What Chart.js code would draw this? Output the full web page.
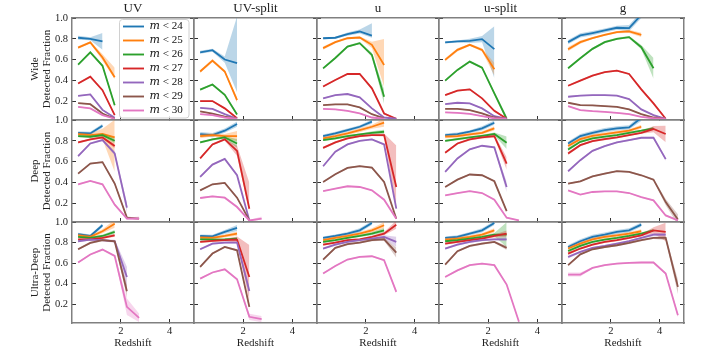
<!DOCTYPE html>
<html>
<head>
<meta charset="utf-8">
<script src="https://cdn.jsdelivr.net/npm/chart.js@4.4.1/dist/chart.umd.min.js"></script>
<style>
  html, body { margin: 0; padding: 0; background: #fff; }
  #fig { position: relative; width: 720px; height: 360px; }
  #fig canvas { position: absolute; left: 0; top: 0; }
</style>
</head>
<body>
<div id="fig"></div>
<script>
// Redshift bin centres and axis ticks
const Z = [0.25, 0.75, 1.25, 1.75, 2.25, 2.75, 3.25, 3.75, 4.25, 4.75];
const X_TICKS = [2, 4];
const Y_TICKS = [0.2, 0.4, 0.6, 0.8, 1.0];
const COLUMNS = ['UV', 'UV-split', 'u', 'u-split', 'g'];
const ROWS = ['Wide', 'Deep', 'Ultra-Deep'];
const MAGS = ['24', '25', '26', '27', '28', '29', '30'];

// Detected fraction per magnitude cut (m<24 ... m<30), one row per series.
// *_ERR: half-width of the shaded band, either symmetric or [down, up].

// ---- Wide ----
const UV_WIDE = [
  [0.81, 0.80, 0.775],
  [0.715, 0.765, 0.62, 0.43],
  [0.55, 0.67, 0.54, 0.16],
  [0.37, 0.435, 0.305, 0.065],
  [0.25, 0.265, 0.115, 0.04],
  [0.18, 0.17, 0.08, 0.03],
  [0.145, 0.13, 0.065, 0.03]];
const UV_WIDE_ERR = [
  [0.02, 0.015, 0.08],
  [0.012, 0.01, 0.03, [0.02, 0.09]],
  [0.01, 0.01, 0.012, 0.02],
  [0.008, 0.008, 0.01, 0.01],
  [0.006, 0.006, 0.008, 0.006],
  [0.006, 0.006, 0.006, 0.005],
  [0.006, 0.006, 0.006, 0.005]];

const UVSPLIT_WIDE = [
  [0.67, 0.69, 0.60, 0.565],
  [0.485, 0.59, 0.485, 0.21],
  [0.31, 0.36, 0.26, 0.07],
  [0.20, 0.20, 0.13, 0.035],
  [0.135, 0.125, 0.075, 0.03],
  [0.10, 0.08, 0.05, 0.03],
  [0.075, 0.065, 0.042, 0.03]];
const UVSPLIT_WIDE_ERR = [
  [0.015, 0.015, 0.03, [0.28, 0.45]],
  [0.015, 0.015, 0.015, 0.025],
  [0.01, 0.01, 0.01, 0.01],
  [0.008, 0.008, 0.008, 0.005],
  [0.006, 0.006, 0.006, 0.005],
  [0.006, 0.006, 0.006, 0.005],
  [0.006, 0.006, 0.006, 0.005]];

const U_WIDE = [
  [0.805, 0.81, 0.845, 0.87, 0.83],
  [0.71, 0.768, 0.805, 0.812, 0.742, 0.548],
  [0.515, 0.615, 0.725, 0.758, 0.645, 0.242],
  [0.34, 0.403, 0.461, 0.461, 0.323, 0.081, 0.03],
  [0.226, 0.258, 0.268, 0.236, 0.13, 0.042, 0.03],
  [0.161, 0.168, 0.168, 0.139, 0.074, 0.035],
  [0.126, 0.12, 0.106, 0.081, 0.042, 0.03]];
const U_WIDE_ERR = [
  [0.01, 0.01, 0.015, 0.02, [0.02, 0.12]],
  [0.015, 0.01, 0.01, 0.01, 0.03, [0.21, 0.25]],
  [0.01, 0.01, 0.01, 0.01, 0.02, 0.07],
  [0.008, 0.008, 0.008, 0.008, 0.01, 0.01, 0.005],
  [0.006, 0.006, 0.006, 0.006, 0.008, 0.006, 0.005],
  [0.006, 0.006, 0.006, 0.006, 0.006, 0.005],
  [0.006, 0.006, 0.006, 0.006, 0.006, 0.005]];

const USPLIT_WIDE = [
  [0.765, 0.774, 0.78, 0.797, 0.70],
  [0.597, 0.693, 0.742, 0.693, 0.507],
  [0.397, 0.50, 0.58, 0.522, 0.274, 0.03],
  [0.258, 0.30, 0.313, 0.226, 0.106, 0.03],
  [0.171, 0.184, 0.178, 0.13, 0.055, 0.03],
  [0.126, 0.126, 0.113, 0.081, 0.042, 0.03],
  [0.091, 0.087, 0.077, 0.055, 0.035, 0.03]];
const USPLIT_WIDE_ERR = [
  [0.01, 0.01, 0.02, 0.03, [0.28, 0.22]],
  [0.015, 0.015, 0.01, 0.015, 0.06],
  [0.01, 0.01, 0.01, 0.01, 0.015, 0.025],
  [0.008, 0.008, 0.008, 0.008, 0.01, 0.005],
  [0.006, 0.006, 0.006, 0.006, 0.006, 0.005],
  [0.006, 0.006, 0.006, 0.006, 0.006, 0.005],
  [0.006, 0.006, 0.006, 0.006, 0.006, 0.005]];

const G_WIDE = [
  [0.768, 0.832, 0.855, 0.88, 0.906, 0.903, 1.03],
  [0.70, 0.768, 0.807, 0.838, 0.864, 0.871, 0.838],
  [0.516, 0.613, 0.703, 0.768, 0.80, 0.816, 0.719, 0.516],
  [0.348, 0.397, 0.445, 0.478, 0.494, 0.461, 0.313, 0.178, 0.03],
  [0.242, 0.252, 0.258, 0.258, 0.252, 0.219, 0.12, 0.065, 0.03],
  [0.184, 0.161, 0.158, 0.152, 0.145, 0.12, 0.074, 0.042, 0.03],
  [0.152, 0.113, 0.103, 0.097, 0.087, 0.074, 0.048, 0.035, 0.03]];
const G_WIDE_ERR = [
  [0.02, 0.02, 0.02, 0.02, 0.02, 0.03, 0.03],
  [0.02, 0.015, 0.01, 0.01, 0.01, 0.015, 0.02],
  [0.01, 0.01, 0.01, 0.01, 0.01, 0.01, 0.02, 0.1],
  [0.008, 0.008, 0.008, 0.008, 0.008, 0.008, 0.01, 0.01, 0.005],
  [0.006, 0.006, 0.006, 0.006, 0.006, 0.006, 0.006, 0.006, 0.005],
  [0.006, 0.006, 0.006, 0.006, 0.006, 0.006, 0.006, 0.006, 0.005],
  [0.006, 0.006, 0.006, 0.006, 0.006, 0.006, 0.006, 0.006, 0.005]];

// ---- Deep ----
const UV_DEEP = [
  [0.877, 0.871, 0.945],
  [0.865, 0.855, 0.865, 0.832],
  [0.845, 0.839, 0.855, 0.80],
  [0.784, 0.813, 0.832, 0.749],
  [0.652, 0.774, 0.807, 0.678, 0.156],
  [0.484, 0.581, 0.594, 0.388, 0.06, 0.05],
  [0.381, 0.413, 0.381, 0.185, 0.05, 0.05]];
const UV_DEEP_ERR = [
  [0.015, 0.015, 0.02],
  [0.015, 0.015, 0.05, [0.33, 0.17]],
  [0.01, 0.01, 0.015, 0.025],
  [0.01, 0.01, 0.01, 0.02],
  [0.01, 0.01, 0.01, 0.02, 0.05],
  [0.008, 0.008, 0.008, 0.015, 0.01, 0.008],
  [0.008, 0.008, 0.008, 0.01, 0.01, [0.01, 0.02]]];

const UVSPLIT_DEEP = [
  [0.865, 0.855, 0.897, 0.961],
  [0.845, 0.855, 0.845, 0.845],
  [0.784, 0.813, 0.832, 0.774],
  [0.63, 0.765, 0.813, 0.703, 0.146],
  [0.452, 0.571, 0.626, 0.468, 0.033],
  [0.323, 0.381, 0.394, 0.252, 0.033],
  [0.249, 0.265, 0.252, 0.162, 0.033, 0.05]];
const UVSPLIT_DEEP_ERR = [
  [0.02, 0.02, 0.02, 0.025],
  [0.02, 0.015, 0.02, 0.05],
  [0.01, 0.01, 0.015, 0.04],
  [0.01, 0.01, 0.01, 0.05, [0.03, 0.25]],
  [0.008, 0.008, 0.008, 0.01, 0.005],
  [0.008, 0.008, 0.008, 0.01, 0.005],
  [0.008, 0.008, 0.008, 0.01, 0.005, [0.01, 0.02]]];

const U_DEEP = [
  [0.845, 0.871, 0.903, 0.935, 0.984],
  [0.823, 0.845, 0.871, 0.903, 0.935, 0.974],
  [0.807, 0.823, 0.845, 0.861, 0.877, 0.887],
  [0.732, 0.784, 0.823, 0.845, 0.855, 0.855, 0.355],
  [0.555, 0.694, 0.765, 0.80, 0.813, 0.765, 0.146],
  [0.403, 0.478, 0.539, 0.555, 0.542, 0.403, 0.05],
  [0.316, 0.339, 0.362, 0.355, 0.323, 0.233, 0.05]];
const U_DEEP_ERR = [
  [0.015, 0.015, 0.015, 0.015, 0.02],
  [0.015, 0.015, 0.015, 0.02, 0.02, 0.04],
  [0.01, 0.01, 0.01, 0.01, 0.015, 0.02],
  [0.01, 0.01, 0.01, 0.01, 0.01, 0.015, [0.21, 0.40]],
  [0.008, 0.008, 0.008, 0.008, 0.008, 0.01, 0.01],
  [0.008, 0.008, 0.008, 0.008, 0.008, 0.01, 0.005],
  [0.006, 0.006, 0.006, 0.006, 0.006, 0.008, 0.005]];

const USPLIT_DEEP = [
  [0.855, 0.865, 0.887, 0.92, 0.974],
  [0.839, 0.845, 0.861, 0.877, 0.92],
  [0.80, 0.816, 0.832, 0.848, 0.865, 0.781],
  [0.684, 0.774, 0.813, 0.832, 0.845, 0.581],
  [0.50, 0.63, 0.717, 0.752, 0.736, 0.355],
  [0.355, 0.426, 0.475, 0.468, 0.41, 0.123],
  [0.275, 0.297, 0.316, 0.297, 0.233, 0.059, 0.033]];
const USPLIT_DEEP_ERR = [
  [0.015, 0.015, 0.015, 0.02, 0.02],
  [0.015, 0.015, 0.015, 0.015, 0.02],
  [0.01, 0.01, 0.01, 0.01, 0.015, 0.06],
  [0.01, 0.01, 0.01, 0.01, 0.015, 0.06],
  [0.008, 0.008, 0.008, 0.008, 0.01, 0.05],
  [0.008, 0.008, 0.008, 0.008, 0.008, 0.01],
  [0.006, 0.006, 0.006, 0.006, 0.008, 0.008, 0.005]];

const G_DEEP = [
  [0.774, 0.845, 0.877, 0.903, 0.92, 0.929, 1.02],
  [0.749, 0.816, 0.848, 0.865, 0.881, 0.897, 0.935],
  [0.717, 0.79, 0.823, 0.839, 0.855, 0.877, 0.897, 0.92],
  [0.678, 0.758, 0.797, 0.816, 0.832, 0.855, 0.877, 0.913, 0.865],
  [0.507, 0.613, 0.703, 0.749, 0.784, 0.807, 0.829, 0.829, 0.623],
  [0.388, 0.41, 0.458, 0.484, 0.507, 0.50, 0.468, 0.426, 0.21, 0.042],
  [0.323, 0.281, 0.307, 0.313, 0.313, 0.297, 0.258, 0.226, 0.081, 0.033]];
const G_DEEP_ERR = [
  [0.02, 0.02, 0.02, 0.02, 0.02, 0.02, 0.03],
  [0.015, 0.015, 0.015, 0.015, 0.015, 0.015, 0.02],
  [0.015, 0.01, 0.01, 0.01, 0.01, 0.01, 0.01, 0.015],
  [0.015, 0.01, 0.01, 0.01, 0.01, 0.01, 0.01, 0.03, 0.08],
  [0.008, 0.008, 0.008, 0.008, 0.008, 0.008, 0.008, 0.01, 0.015],
  [0.008, 0.008, 0.008, 0.008, 0.008, 0.008, 0.008, 0.01, 0.03, 0.05],
  [0.006, 0.006, 0.006, 0.006, 0.006, 0.006, 0.006, 0.008, 0.01, 0.005]];

// ---- Ultra-Deep ----
const UV_UDEEP = [
  [0.881, 0.864, 0.968],
  [0.871, 0.855, 0.91, 0.984],
  [0.855, 0.845, 0.864, 0.903],
  [0.832, 0.832, 0.845, 0.871],
  [0.813, 0.829, 0.823, 0.813, 0.466],
  [0.735, 0.797, 0.823, 0.813, 0.327],
  [0.606, 0.684, 0.732, 0.67, 0.175, 0.068]];
const UV_UDEEP_ERR = [
  [0.015, 0.015, 0.02],
  [0.015, 0.015, 0.02, 0.04],
  [0.01, 0.01, 0.015, 0.02],
  [0.01, 0.01, 0.01, 0.015],
  [0.01, 0.01, 0.01, 0.015, 0.1],
  [0.01, 0.01, 0.01, 0.01, 0.06],
  [0.008, 0.008, 0.008, 0.01, 0.08, 0.04]];

const UVSPLIT_UDEEP = [
  [0.864, 0.861, 0.903, 0.942],
  [0.848, 0.845, 0.864, 0.887],
  [0.832, 0.829, 0.832, 0.839],
  [0.806, 0.816, 0.823, 0.829, 0.466],
  [0.735, 0.79, 0.80, 0.80, 0.33],
  [0.563, 0.693, 0.757, 0.725, 0.175],
  [0.45, 0.509, 0.54, 0.444, 0.078, 0.055]];
const UVSPLIT_UDEEP_ERR = [
  [0.015, 0.015, 0.02, 0.03],
  [0.015, 0.015, 0.015, 0.02],
  [0.01, 0.01, 0.01, 0.015],
  [0.01, 0.01, 0.01, 0.03, [0.24, 0.31]],
  [0.01, 0.01, 0.01, 0.01, 0.04],
  [0.01, 0.01, 0.01, 0.01, 0.03],
  [0.008, 0.008, 0.008, 0.01, 0.03, 0.03]];

const U_UDEEP = [
  [0.845, 0.864, 0.887, 0.919, 0.99],
  [0.823, 0.845, 0.864, 0.887, 0.919, 0.968],
  [0.806, 0.823, 0.845, 0.864, 0.887, 0.919],
  [0.78, 0.80, 0.823, 0.832, 0.855, 0.887, 0.974],
  [0.742, 0.78, 0.806, 0.823, 0.839, 0.855, 0.806],
  [0.635, 0.748, 0.784, 0.80, 0.823, 0.832, 0.703],
  [0.499, 0.573, 0.635, 0.66, 0.667, 0.628, 0.32]];
const U_UDEEP_ERR = [
  [0.015, 0.015, 0.015, 0.02, 0.02],
  [0.015, 0.015, 0.015, 0.015, 0.02, 0.03],
  [0.01, 0.01, 0.01, 0.01, 0.015, 0.02],
  [0.01, 0.01, 0.01, 0.01, 0.01, 0.015, 0.04],
  [0.01, 0.01, 0.01, 0.01, 0.01, 0.015, 0.05],
  [0.01, 0.01, 0.01, 0.01, 0.01, 0.015, 0.05],
  [0.008, 0.008, 0.008, 0.008, 0.008, 0.01, 0.02]];

const USPLIT_UDEEP = [
  [0.845, 0.855, 0.887, 0.919, 0.99],
  [0.829, 0.839, 0.855, 0.877, 0.919],
  [0.813, 0.823, 0.839, 0.855, 0.877, 0.877],
  [0.79, 0.806, 0.823, 0.839, 0.864, 0.887],
  [0.742, 0.78, 0.806, 0.823, 0.832, 0.832],
  [0.586, 0.716, 0.767, 0.79, 0.806, 0.748],
  [0.466, 0.53, 0.58, 0.596, 0.58, 0.392, 0.03]];
const USPLIT_UDEEP_ERR = [
  [0.015, 0.015, 0.015, 0.02, 0.02],
  [0.015, 0.015, 0.015, 0.015, 0.02],
  [0.01, 0.01, 0.01, 0.01, 0.015, 0.12],
  [0.01, 0.01, 0.01, 0.01, 0.015, 0.03],
  [0.01, 0.01, 0.01, 0.01, 0.01, 0.02],
  [0.01, 0.01, 0.01, 0.01, 0.01, 0.02],
  [0.008, 0.008, 0.008, 0.008, 0.008, 0.01, 0.005]];

const G_UDEEP = [
  [0.757, 0.813, 0.855, 0.877, 0.903, 0.919, 0.974],
  [0.742, 0.79, 0.832, 0.855, 0.871, 0.887, 0.91],
  [0.718, 0.767, 0.806, 0.829, 0.845, 0.864, 0.887, 0.919],
  [0.693, 0.742, 0.78, 0.806, 0.823, 0.845, 0.871, 0.919, 0.903],
  [0.66, 0.709, 0.748, 0.767, 0.79, 0.813, 0.845, 0.877, 0.877],
  [0.58, 0.686, 0.735, 0.757, 0.774, 0.797, 0.823, 0.845, 0.845, 0.369],
  [0.489, 0.489, 0.553, 0.58, 0.596, 0.603, 0.606, 0.606, 0.499, 0.094]];
const G_UDEEP_ERR = [
  [0.02, 0.02, 0.02, 0.02, 0.02, 0.02, 0.02],
  [0.015, 0.015, 0.015, 0.015, 0.015, 0.015, 0.02],
  [0.015, 0.01, 0.01, 0.01, 0.01, 0.01, 0.01, 0.015],
  [0.015, 0.01, 0.01, 0.01, 0.01, 0.01, 0.01, 0.03, 0.09],
  [0.015, 0.01, 0.01, 0.01, 0.01, 0.01, 0.01, 0.015, 0.015],
  [0.01, 0.01, 0.01, 0.01, 0.01, 0.01, 0.01, 0.01, 0.02, 0.07],
  [0.02, 0.02, 0.008, 0.008, 0.008, 0.008, 0.008, 0.008, 0.01, 0.02]];

const PANELS = [
  [[UV_WIDE, UV_WIDE_ERR], [UVSPLIT_WIDE, UVSPLIT_WIDE_ERR], [U_WIDE, U_WIDE_ERR], [USPLIT_WIDE, USPLIT_WIDE_ERR], [G_WIDE, G_WIDE_ERR]],
  [[UV_DEEP, UV_DEEP_ERR], [UVSPLIT_DEEP, UVSPLIT_DEEP_ERR], [U_DEEP, U_DEEP_ERR], [USPLIT_DEEP, USPLIT_DEEP_ERR], [G_DEEP, G_DEEP_ERR]],
  [[UV_UDEEP, UV_UDEEP_ERR], [UVSPLIT_UDEEP, UVSPLIT_UDEEP_ERR], [U_UDEEP, U_UDEEP_ERR], [USPLIT_UDEEP, USPLIT_UDEEP_ERR], [G_UDEEP, G_UDEEP_ERR]]];

// tab10 colours, m<24 ... m<30
const COLORS = ['31,119,180', '255,127,14', '44,160,44', '214,39,40', '148,103,189', '140,86,75', '227,119,194'];

// panel grid (pixel edges of each plot area)
const COL_X = [72, 194, 317, 439, 562, 684];
const ROW_Y = [18, 120, 222, 323];
const Y_MIN = 0.018;
const SERIF = "'Liberation Serif', 'DejaVu Serif', serif";
const TEXT = '#222';
const FRAME = '#808080';

function bandEdge(e, k) {
  return Array.isArray(e) ? e[k] : e;
}

function buildDatasets(vals, errs) {
  const ds = [];
  vals.forEach((v, s) => {
    const rgb = COLORS[s];
    const pts = (f) => v.map((y, i) => ({ x: Z[i], y: f(y, errs[s][i]) }));
    ds.push({ label: '', data: pts((y, e) => y + bandEdge(e, 1)), fill: '+1',
      backgroundColor: `rgba(${rgb},0.3)`, borderWidth: 0, pointRadius: 0 });
    ds.push({ label: '', data: pts((y, e) => y - bandEdge(e, 0)), fill: false,
      borderWidth: 0, pointRadius: 0 });
    ds.push({ label: `\u{1D45A} < ${MAGS[s]}`, data: pts((y) => y), fill: false,
      borderColor: `rgb(${rgb})`, backgroundColor: `rgb(${rgb})`,
      borderWidth: 1.8, pointRadius: 0, tension: 0 });
  });
  // later series on top, as in the original plot
  ds.forEach((d, i) => { d.order = 1000 - i; });
  return ds;
}

// legend sits inside the first panel, upper right, with a light frame
const legendFrame = {
  id: 'legendFrame',
  afterLayout(chart) {
    const lg = chart.legend;
    const area = chart.chartArea;
    lg.left = area.left + 48;
    lg.right = area.right;
    lg.top = area.top;
    lg.bottom = area.bottom;
  },
  afterDatasetsDraw(chart) {
    const { ctx, chartArea } = chart;
    const x0 = chartArea.left + 47.5, y0 = chartArea.top + 1.5;
    const x1 = chartArea.right - 5, y1 = chartArea.bottom - 2;
    ctx.save();
    ctx.beginPath();
    ctx.roundRect(x0, y0, x1 - x0, y1 - y0, 3);
    ctx.fillStyle = 'rgba(255,255,255,0.85)';
    ctx.fill();
    ctx.strokeStyle = '#d0d0d0';
    ctx.lineWidth = 1;
    ctx.stroke();
    ctx.restore();
    chart.legend.draw();
  }
};

function tickGrid(extra) {
  return Object.assign({ drawOnChartArea: false, tickLength: -4, tickColor: '#333', tickWidth: 1, color: '#333' }, extra);
}

function makePanel(r, c) {
  const [vals, errs] = PANELS[r][c];
  const left = COL_X[c], right = COL_X[c + 1];
  const top = ROW_Y[r], bottom = ROW_Y[r + 1];
  const canvas = document.createElement('canvas');
  canvas.width = 720;
  canvas.height = 360;
  document.getElementById('fig').appendChild(canvas);
  const first = r === 0 && c === 0;
  const yTicks = (axis) => { axis.ticks = Y_TICKS.map((value) => ({ value })); };
  const xTicks = (axis) => { axis.ticks = X_TICKS.map((value) => ({ value })); };

  new Chart(canvas, {
    type: 'line',
    data: { datasets: buildDatasets(vals, errs) },
    options: {
      responsive: false,
      animation: false,
      events: [],
      layout: {
        padding: {
          left: c === 0 ? 0 : left,
          top: r === 0 ? 0 : top,
          right: 720 - right,
          bottom: r === 2 ? 0 : 360 - bottom
        }
      },
      scales: {
        x: {
          type: 'linear', position: 'bottom', min: 0, max: 5, bounds: 'data',
          afterBuildTicks: xTicks,
          afterFit: (axis) => { axis.height = r === 2 ? 360 - bottom : 0; },
          ticks: { display: r === 2, padding: 6, color: TEXT, font: { family: SERIF, size: 10.5 } },
          grid: tickGrid(),
          border: { color: FRAME, width: 1.5 },
          title: { display: r === 2, text: 'Redshift', color: TEXT,
            font: { family: SERIF, size: 11 }, padding: { top: 0, bottom: 10 } }
        },
        xTop: {
          type: 'linear', position: 'top', min: 0, max: 5,
          afterFit: (axis) => { axis.height = r === 0 ? top : 0; },
          ticks: { display: false },
          grid: tickGrid({ drawTicks: false }),
          border: { color: FRAME, width: 1.5 },
          title: { display: r === 0, text: COLUMNS[c], color: TEXT,
            font: { family: SERIF, size: 13 }, padding: { top: 1, bottom: 0 } }
        },
        y: {
          type: 'linear', position: 'left', min: Y_MIN, max: 1, bounds: 'data',
          afterBuildTicks: yTicks,
          afterFit: (axis) => { axis.width = c === 0 ? left : 0; },
          ticks: { display: c === 0, padding: 8, color: TEXT,
            font: { family: SERIF, size: 10.5 }, callback: (v) => v.toFixed(1) },
          grid: tickGrid(),
          border: { color: FRAME, width: 1.5 },
          title: { display: c === 0, text: [ROWS[r], 'Detected Fraction'], color: TEXT,
            font: { family: SERIF, size: 11, lineHeight: 1.15 }, padding: { top: 28.5, bottom: 0 } }
        },
        yRight: {
          type: 'linear', position: 'right', min: Y_MIN, max: 1, bounds: 'data',
          afterBuildTicks: yTicks,
          afterFit: (axis) => { axis.width = 0; },
          ticks: { display: false },
          grid: tickGrid(),
          border: { color: FRAME, width: 1.5 }
        }
      },
      plugins: {
        tooltip: { enabled: false },
        title: { display: false },
        legend: {
          display: first,
          position: 'chartArea',
          align: 'start',
          labels: {
            usePointStyle: true,
            pointStyle: 'line',
            pointStyleWidth: 21,
            padding: 3,
            color: TEXT,
            textAlign: 'left',
            font: { family: SERIF, size: 11 },
            filter: (item) => !!item.text,
            sort: (a, b) => a.datasetIndex - b.datasetIndex
          }
        }
      }
    },
    plugins: first ? [legendFrame] : []
  });
}

for (let r = 0; r < 3; r++) {
  for (let c = 0; c < 5; c++) makePanel(r, c);
}
</script>
</body>
</html>
